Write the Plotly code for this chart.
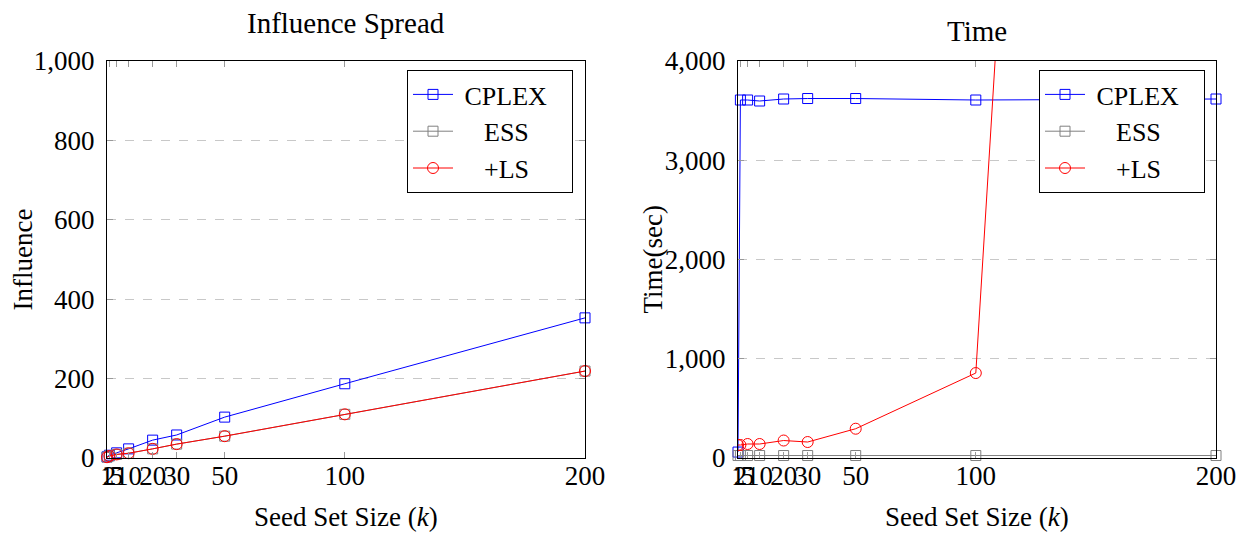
import plotly.graph_objects as go

k_values = [1, 2, 5, 10, 20, 30, 50, 100, 200]
x_tick_labels = ["1", "2", "5", "10", "20", "30", "50", "100", "200"]

infl_cplex = [3, 7, 13, 23, 45, 58, 103, 187, 353]
infl_ess = [2, 5, 9, 12, 23, 35, 55, 110, 219]
infl_ls = [2, 5, 9, 12, 23, 35, 55, 110, 219]

time_cplex = [60, 3607, 3607, 3597, 3617, 3622, 3622, 3607, 3617]
time_ess = [25, 25, 25, 25, 25, 25, 25, 25, 25]
time_ls = [131, 131, 141, 141, 176, 161, 295, 856, 40000]

series_names = ["CPLEX", "ESS", "+LS"]

OFF = 8  # page body margin
W, H = 1255 - OFF, 535 - OFF
FONT = "Liberation Serif"
FS = 27
BLUE, GREY, RED = "#0000ff", "#808080", "#ff0000"
L1, R1, L2, R2 = 107 - OFF, 585 - OFF, 738 - OFF, 1216 - OFF
TOP, BOT = 61 - OFF, 458 - OFF
NB = "\u00a0"
legend_labels = [NB + series_names[0] + NB * 3, NB * 4 + series_names[1],
                 NB * 4 + series_names[2]]

fig = go.Figure()

def add(x, y, name, color, symbol, xa, ya, legend, clip=False):
    fig.add_trace(go.Scatter(
        x=x, y=y, name=name, mode="lines+markers",
        line=dict(color=color, width=1),
        marker=dict(symbol=symbol, size=10 if "square" in symbol else 11,
                    color=color, line=dict(color=color, width=1)),
        xaxis=xa, yaxis=ya, legend=legend, cliponaxis=clip,
    ))

add(k_values, infl_cplex, legend_labels[0], BLUE, "square-open", "x", "y", "legend")
add(k_values, infl_ess, legend_labels[1], GREY, "square-open", "x", "y", "legend")
add(k_values, infl_ls, legend_labels[2], RED, "circle-open", "x", "y", "legend")

add(k_values, time_cplex, legend_labels[0], BLUE, "square-open", "x2", "y2", "legend2")
add(k_values, time_ess, legend_labels[1], GREY, "square-open", "x2", "y2", "legend2")
add(k_values, time_ls, legend_labels[2], RED, "circle-open", "x2", "y2", "legend2", clip=True)

axis_common = dict(showline=True, linecolor="black", linewidth=1, mirror="allticks",
                   ticks="inside", ticklen=6, tickcolor="#999999", zeroline=False,
                   automargin=False, tickangle=0,
                   tickfont=dict(family=FONT, size=FS, color="black"))

xcommon = dict(axis_common, tickvals=k_values, ticktext=x_tick_labels, range=[1, 200],
               showgrid=False, ticklabelstandoff=-6)

ycommon = dict(axis_common, tickformat=",", showgrid=True, gridcolor="#c8c8c8", griddash="dash",
               ticklabelstandoff=6)

def ann(text, x, y, xshift=0, yshift=0, angle=0, size=FS):
    return dict(text=text, x=x, y=y, xref="paper", yref="paper", xanchor="center",
                yanchor="middle", xshift=xshift, yshift=yshift, textangle=angle,
                showarrow=False, font=dict(family=FONT, size=size, color="black"))

ph = BOT - TOP
legend_common = dict(xanchor="right", yanchor="top", y=(BOT - (70 - OFF)) / ph,
                     bgcolor="white", bordercolor="black", borderwidth=1,
                     itemwidth=40, font=dict(family=FONT, size=26, color="black"))
fig.update_layout(
    width=W, height=H,
    margin=dict(l=0, r=0, t=TOP, b=H - BOT),
    plot_bgcolor="white", paper_bgcolor="white",
    showlegend=True,
    xaxis=dict(xcommon, domain=[L1 / W, R1 / W], anchor="y"),
    xaxis2=dict(xcommon, domain=[L2 / W, R2 / W], anchor="y2"),
    yaxis=dict(ycommon, range=[0, 1000], tickvals=[0, 200, 400, 600, 800, 1000], anchor="x"),
    yaxis2=dict(ycommon, range=[0, 4000], tickvals=[0, 1000, 2000, 3000, 4000], anchor="x2"),
    legend=dict(legend_common, x=(573 - OFF) / W),
    legend2=dict(legend_common, x=(1205 - OFF) / W),
    annotations=[
        ann("Influence Spread", (L1 + R1) / 2 / W, 1, yshift=38, size=29),
        ann("Time", (L2 + R2) / 2 / W, 1, yshift=30, size=29),
        ann("Seed Set Size (<i>k</i>)", (L1 + R1) / 2 / W, 0, yshift=-59),
        ann("Seed Set Size (<i>k</i>)", (L2 + R2) / 2 / W, 0, yshift=-59),
        ann("Influence", L1 / W, 0.5, xshift=-85, angle=-90),
        ann("Time(sec)", L2 / W, 0.5, xshift=-86, angle=-90),
    ],
)

fig.write_html("out.html")
